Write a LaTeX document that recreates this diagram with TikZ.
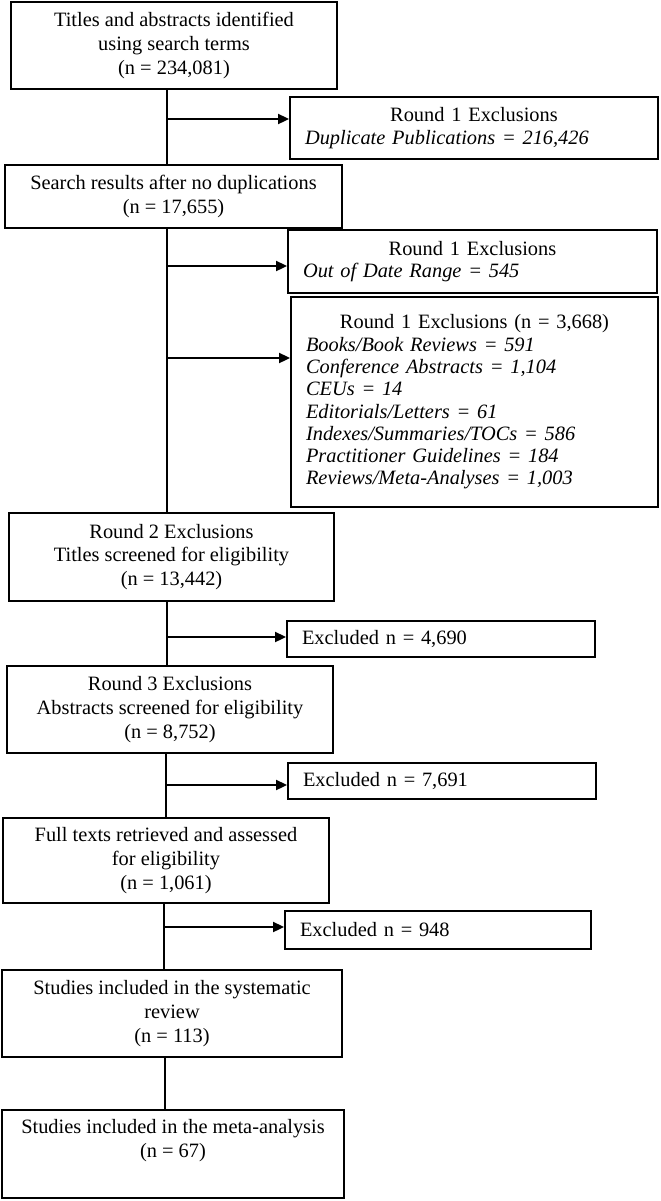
\documentclass[tikz,border=0pt]{standalone}
\usepackage{fontspec}
\setmainfont{Liberation Serif}
\usetikzlibrary{arrows.meta}

\begin{document}
\begin{tikzpicture}[x=0.02cm, y=-0.02cm, line width=1.1pt, >={Triangle[length=0.22cm,width=0.2cm]},
  box/.style={draw, align=center, inner sep=0pt, font=\fontsize{11.6}{13.6}\selectfont},
  exbox/.style={draw, align=left, inner xsep=0.3cm, inner ysep=0pt, font=\fontsize{11.6}{12.7}\selectfont}]
  \useasboundingbox (0,0) rectangle (660,1201);

  % main column
  \node [box, minimum width=6.52cm, minimum height=1.74cm] (titles) at (174,45.5)
    {Titles and abstracts identified\\ using search terms\\ (n = 234,081)};
  \node [box, minimum width=6.74cm, minimum height=1.26cm] (search) at (173.5,196.5)
    {Search results after no duplications\\ (n = 17,655)};
  \node [box, minimum width=6.5cm, minimum height=1.76cm] (round2) at (171.5,557)
    {Round 2 Exclusions\\ Titles screened for eligibility\\ (n = 13,442)};
  \node [box, minimum width=6.52cm, minimum height=1.74cm] (round3) at (170,709.5)
    {Round 3 Exclusions\\ Abstracts screened for eligibility\\ (n = 8,752)};
  \node [box, minimum width=6.52cm, minimum height=1.7cm] (fulltext) at (166,860.5)
    {Full texts retrieved and assessed\\ for eligibility\\ (n = 1,061)};
  \node [box, minimum width=6.8cm, minimum height=1.74cm] (review) at (172,1013.5)
    {Studies included in the systematic\\ review\\ (n = 113)};
  \node [box, minimum width=6.84cm, minimum height=1.76cm] (meta) at (173,1154)
    {Studies included in the meta-analysis\\ (n = 67)\\ \strut};

  % exclusions
  \node [exbox, text width=6.76cm, minimum height=1.24cm] (dupl) at (474,128)
    {\makebox[\hsize]{Round 1 Exclusions}\\ \textit{Duplicate Publications = 216,426}};
  \node [exbox, text width=6.78cm, minimum height=1.26cm] (daterange) at (472.5,261.5)
    {\makebox[\hsize]{Round 1 Exclusions}\\ \textit{Out of Date Range = 545}};
  \node [exbox, text width=6.74cm, minimum height=4.2cm] (pubtype) at (474.5,402)
    {\makebox[\hsize]{Round 1 Exclusions (n = 3,668)}\\
     \textit{Books/Book Reviews = 591}\\
     \textit{Conference Abstracts = 1,104}\\
     \textit{CEUs = 14}\\
     \textit{Editorials/Letters = 61}\\
     \textit{Indexes/Summaries/TOCs = 586}\\
     \textit{Practitioner Guidelines = 184}\\
     \textit{Reviews/Meta-Analyses = 1,003}};
  \node [exbox, text width=5.56cm, minimum height=0.72cm] (excl2) at (441,639) {Excluded n = 4,690};
  \node [exbox, text width=5.56cm, minimum height=0.72cm] (excl3) at (442,781) {Excluded n = 7,691};
  \node [exbox, text width=5.52cm, minimum height=0.76cm] (excl4) at (438,930) {Excluded n = 948};

  % branch points
  \coordinate (b1) at (167,119);
  \coordinate (b2) at (167,266);
  \coordinate (b3) at (167,358);
  \coordinate (b4) at (167,637);
  \coordinate (b5) at (166,785);
  \coordinate (b6) at (164,927);
  \coordinate (b7) at (165,1060);

  \draw (titles.south -| b1) -- (search.north -| b1);
  \draw (search.south -| b2) -- (round2.north -| b2);
  \draw (round2.south -| b4) -- (round3.north -| b4);
  \draw (round3.south -| b5) -- (fulltext.north -| b5);
  \draw (fulltext.south -| b6) -- (review.north -| b6);
  \draw (review.south -| b7) -- (meta.north -| b7);

  \draw [->] (b1) -- (b1 -| dupl.west);
  \draw [->] (b2) -- (b2 -| daterange.west);
  \draw [->] (b3) -- (b3 -| pubtype.west);
  \draw [->] (b4) -- (b4 -| excl2.west);
  \draw [->] (b5) -- (b5 -| excl3.west);
  \draw [->] (b6) -- (b6 -| excl4.west);
\end{tikzpicture}
\end{document}
